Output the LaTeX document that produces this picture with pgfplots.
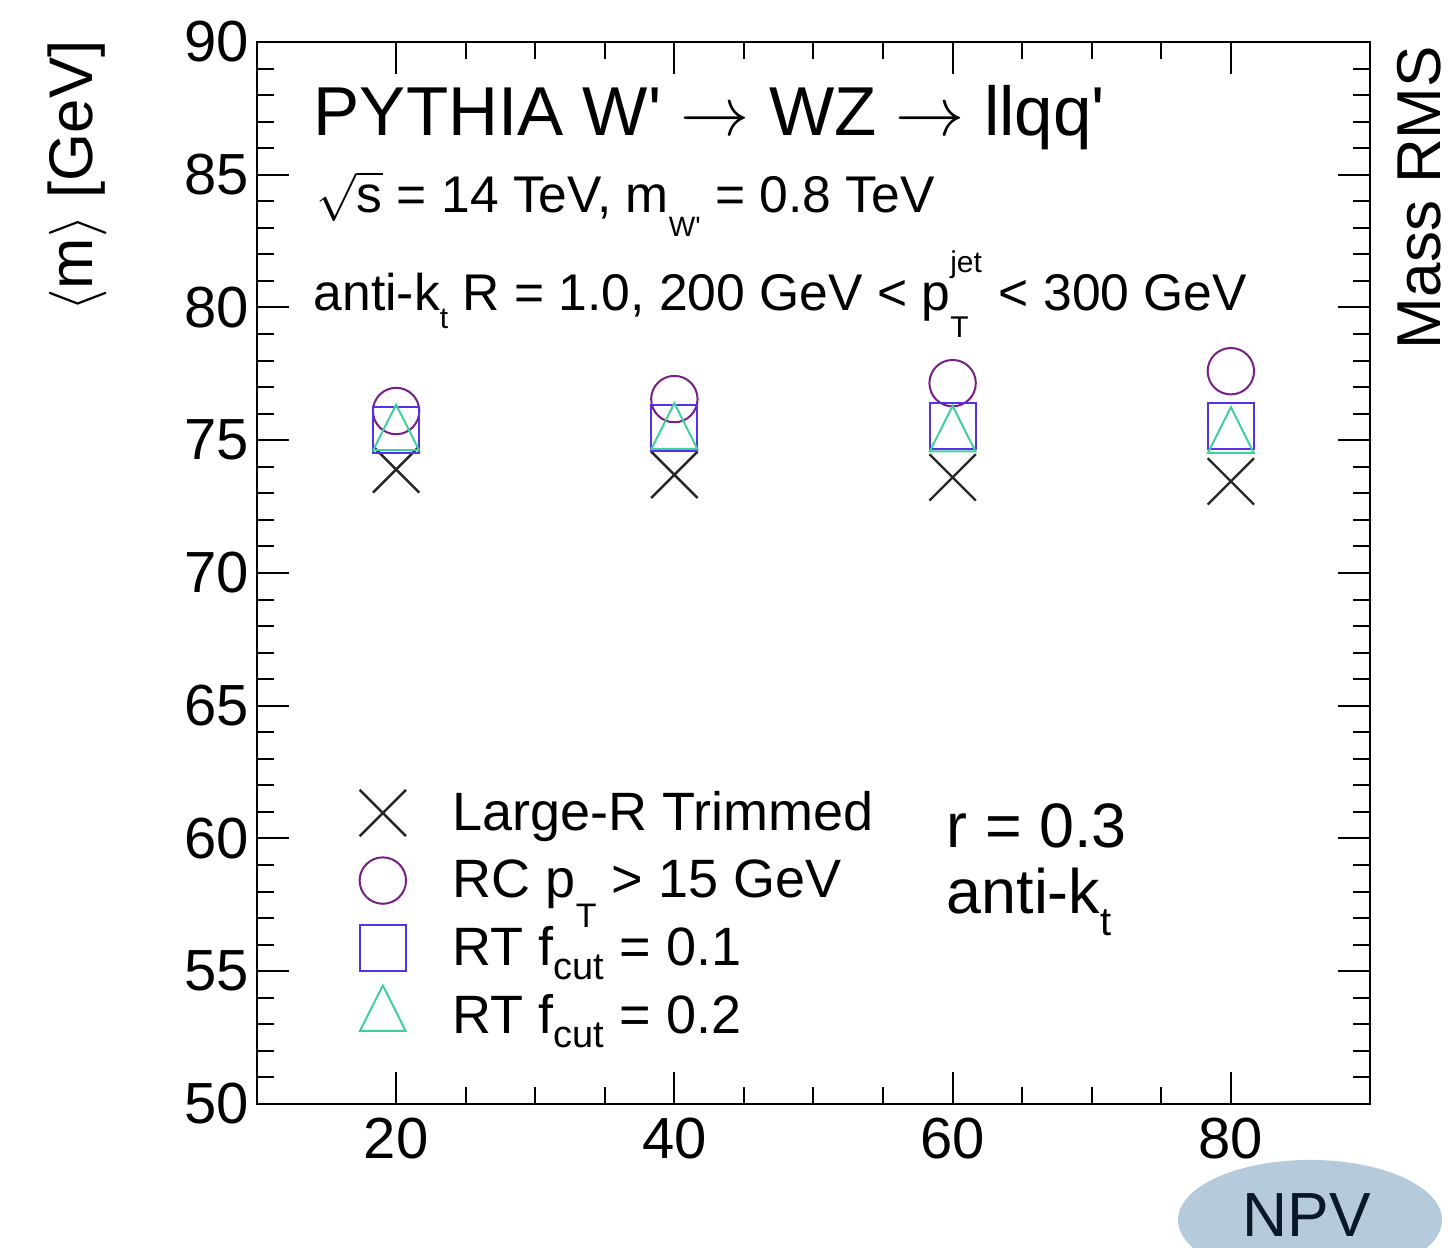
\documentclass[border=0pt]{standalone}
\usepackage{fontspec}
\setmainfont{Liberation Sans}[Ligatures=TeXOff]
\usepackage{pgfplots}
\pgfplotsset{compat=1.18}

\definecolor{rcpurple}{RGB}{120,30,135}
\definecolor{rtblue}{RGB}{85,50,230}
\definecolor{rtgreen}{RGB}{64,208,160}
\definecolor{npvfill}{RGB}{181,203,219}
\definecolor{npvtext}{RGB}{10,25,40}

% font size helper and lowered / raised index text
\newcommand{\fs}[1]{\fontsize{#1}{#1}\selectfont}
\newcommand{\lo}[3]{\raisebox{-#1}{\fs{#2}#3}}
\newcommand{\hi}[3]{\raisebox{#1}{\fs{#2}#3}}
% legend text with a fixed row height
\newcommand{\legtext}[1]{\rule[-4pt]{0pt}{12pt}#1}
\newcommand{\slo}[3]{\smash{\raisebox{-#1}{\fs{#2}#3}}}

\pgfplotsset{
  legmark/.style={only marks,
    legend image code/.code={%
      \draw[##1] plot coordinates {(0pt,0.25pt)};
      \path[draw=none] (-8pt,-8pt) rectangle (17.5pt,8pt);}},
}

\begin{document}
\begin{tikzpicture}
\useasboundingbox (-64.25pt,-36pt) rectangle (297.75pt,276pt);
\begin{axis}[
  at={(0pt,0pt)}, anchor=south west,
  scale only axis, width=278.25pt, height=265.5pt,
  xmin=10, xmax=90, ymin=50, ymax=90,
  xtick={20,40,60,80}, minor x tick num=3,
  ytick={50,55,...,90}, minor y tick num=4,
  tick align=inside,
  major tick length=8pt, minor tick length=4.3pt,
  axis line style={line width=0.6pt},
  every tick/.style={line width=0.5pt, black},
  tick label style={font=\fs{14.5}},
  /pgf/number format/assume math mode=true,
  yticklabel style={xshift=1.5pt},
  clip=false,
  legend cell align=left,
  legend style={draw=none, fill=none, at={(0.0843,0.3032)}, anchor=north west,
    font=\fs{13.5}, row sep=0.9pt, inner sep=0pt, outer sep=0pt,
    nodes={inner sep=0pt}},
]
\addplot[legmark, mark=x, mark size=8.2pt, black!85, line width=0.6pt]
  coordinates {(20,73.9) (40,73.7) (60,73.6) (80,73.45)};
\addlegendentry{\legtext{Large-R Trimmed}}
\addplot[legmark, mark=o, mark size=5.8pt, rcpurple, line width=0.5pt]
  coordinates {(20,76.1) (40,76.55) (60,77.15) (80,77.6)};
\addlegendentry{\legtext{RC p\slo{7.5pt}{8.5}{T} > 15 GeV}}
\addplot[legmark, mark=square, mark size=5.75pt, rtblue, line width=0.5pt]
  coordinates {(20,75.4) (40,75.45) (60,75.55) (80,75.55)};
\addlegendentry{\legtext{RT f\slo{3.5pt}{9.5}{cut} = 0.1}}
\addplot[legmark, mark=triangle, mark size=6.6pt, mark options={yscale=1.15}, rtgreen, line width=0.5pt]
  coordinates {(20,75.2) (40,75.25) (60,75.15) (80,75.1)};
\addlegendentry{\legtext{RT f\slo{3.5pt}{9.5}{cut} = 0.2}}

% header text
\node[anchor=base west, inner sep=0pt, font=\fs{17.3}] at (rel axis cs:0.0503,0.9124)
  {PYTHIA W' $\rightarrow$ WZ $\rightarrow$ llqq'};
\node[anchor=base west, inner sep=0pt, font=\fs{12.9}] at (rel axis cs:0.0530,0.8390)
  {\(\sqrt{\mbox{s}}\) = 14 TeV, m\lo{6pt}{7}{W'} = 0.8 TeV};
\node[anchor=base west, inner sep=0pt, font=\fs{12.9}] at (rel axis cs:0.0503,0.7476)
  {anti-k\lo{4.5pt}{7.5}{t} R = 1.0, 200 GeV < p\rlap{\hi{9.5pt}{7.5}{jet}}\lo{6.75pt}{7.5}{T}\hspace{4pt} < 300 GeV};
\node[anchor=base west, inner sep=0pt, font=\fs{15.7}] at (rel axis cs:0.6190,0.2411)
  {r = 0.3};
\node[anchor=base west, inner sep=0pt, font=\fs{15.7}] at (rel axis cs:0.6190,0.1798)
  {anti-k\lo{5.5pt}{10}{t}};

% axis titles
\node[anchor=base east, rotate=90, inner sep=0pt, font=\fs{15.4}] at (rel axis cs:-0.1474,1.0019)
  {$\langle$m$\rangle$ [GeV]};
\node[anchor=base east, rotate=90, inner sep=0pt, font=\fs{15.5}] at (rel axis cs:1.063,0.997)
  {Mass RMS};

% NPV badge
\fill[npvfill] (rel axis cs:0.9461,-0.1092) ellipse [x radius=33pt, y radius=15pt];
\node[anchor=base, inner sep=0pt, font=\fs{15.6}, text=npvtext] at (rel axis cs:0.9434,-0.1252) {NPV};
\end{axis}
\end{tikzpicture}
\end{document}
